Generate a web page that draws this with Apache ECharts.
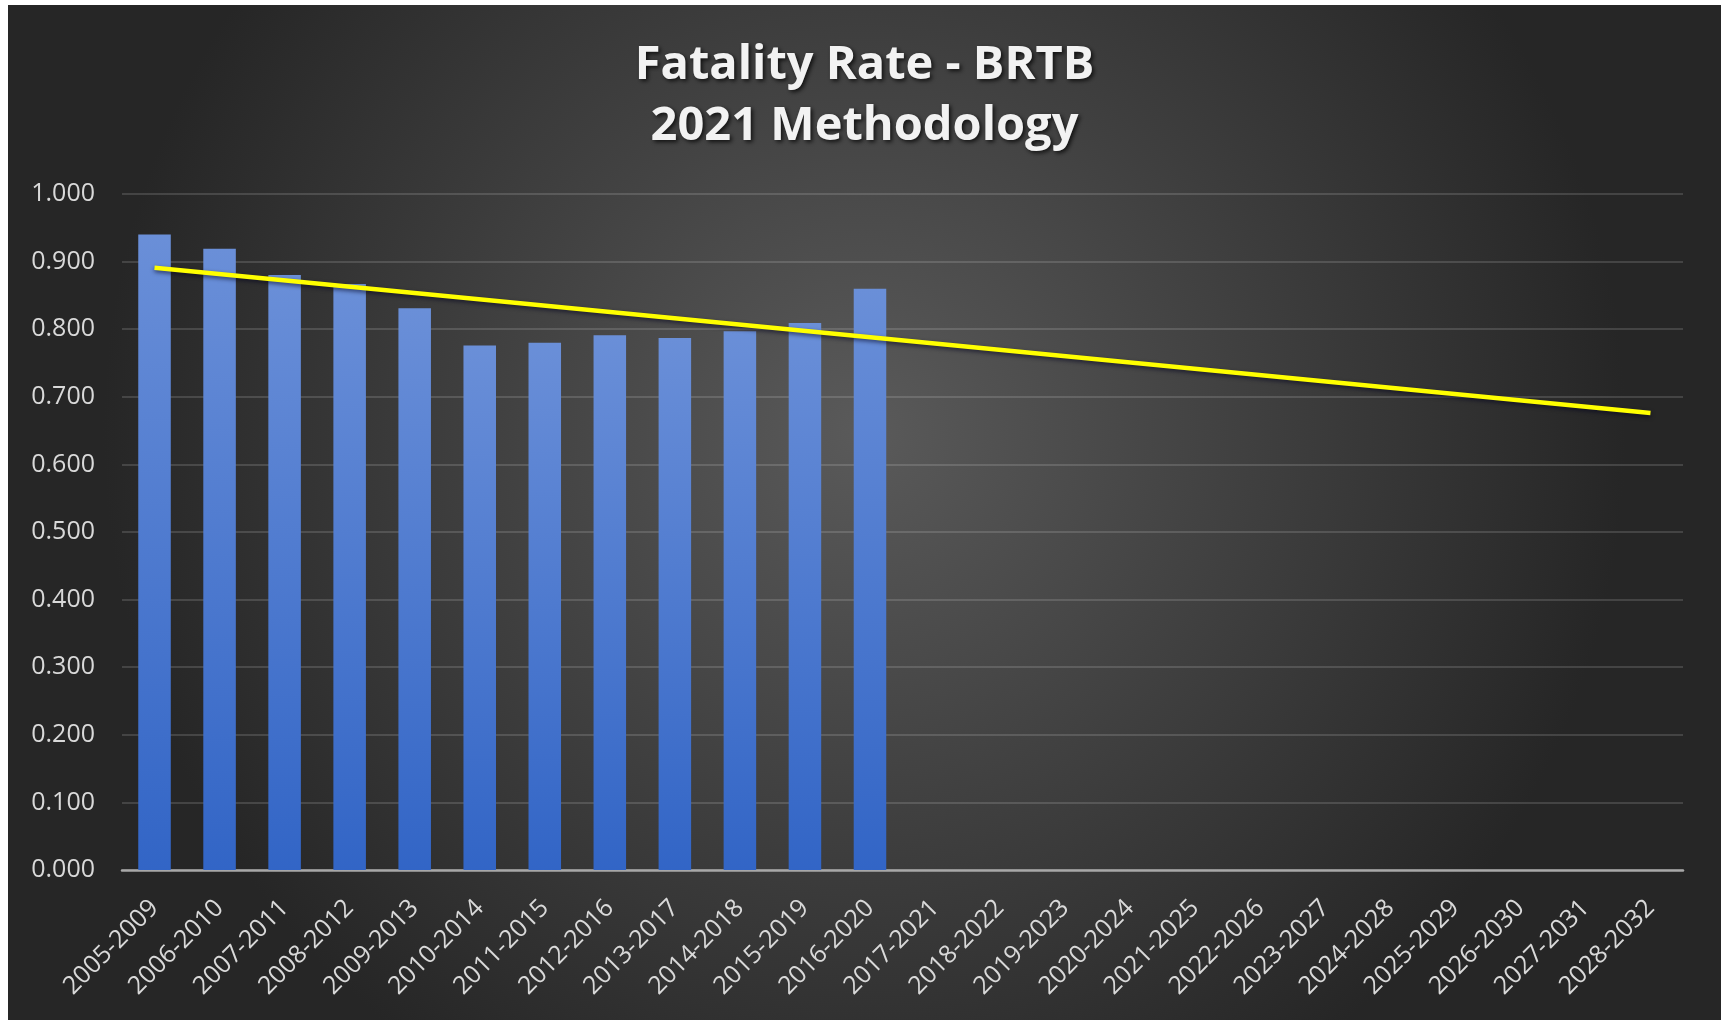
<!DOCTYPE html>
<html>
<head>
<meta charset="utf-8">
<script src="https://cdn.jsdelivr.net/npm/echarts@6/dist/echarts.min.js"></script>
<style>
  html, body { margin: 0; padding: 0; background: #ffffff; }
  #chart { position: absolute; left: 8px; top: 5px; width: 1713px; height: 1015px; }
</style>
</head>
<body>
<div id="chart"></div>
<script>
// five-year windows on the x axis
const periods = [
  '2005-2009', '2006-2010', '2007-2011', '2008-2012', '2009-2013', '2010-2014',
  '2011-2015', '2012-2016', '2013-2017', '2014-2018', '2015-2019', '2016-2020',
  '2017-2021', '2018-2022', '2019-2023', '2020-2024', '2021-2025', '2022-2026',
  '2023-2027', '2024-2028', '2025-2029', '2026-2030', '2027-2031', '2028-2032'
]

// observed fatality rate (only first 12 windows have data)
const fatalityRate = [
  0.940, 0.919, 0.880, 0.867, 0.831, 0.776,
  0.780, 0.791, 0.787, 0.797, 0.809, 0.860,
  null, null, null, null, null, null,
  null, null, null, null, null, null
]

// linear trend line: start and end values
const trendLine = [
  0.891, null, null, null, null, null,
  null, null, null, null, null, null,
  null, null, null, null, null, null,
  null, null, null, null, null, 0.676
]

const yTicks = { min: 0, max: 1, interval: 0.1 }

const chart = echarts.init(document.getElementById('chart'), null, { renderer: 'canvas' })

chart.setOption({
  backgroundColor: {
    type: 'radial', x: 0.5, y: 0.42, r: 0.75,
    colorStops: [
      { offset: 0, color: '#5a5a5a' },
      { offset: 1, color: '#262626' }
    ]
  },
  title: {
    text: 'Fatality Rate - BRTB\n2021 Methodology',
    left: 'center',
    top: 25,
    textStyle: {
      color: '#f2f2f2',
      fontFamily: 'Open Sans',
      fontWeight: 'bold',
      fontSize: 47,
      lineHeight: 61,
      textShadowColor: 'rgba(0,0,0,0.75)',
      textShadowBlur: 4,
      textShadowOffsetX: 2,
      textShadowOffsetY: 2
    }
  },
  grid: { left: 114, right: 38, top: 189, bottom: 150 },
  xAxis: {
    type: 'category',
    data: periods,
    axisLine: { lineStyle: { color: '#a8a8a8', width: 2.5 } },
    axisTick: { show: false },
    axisLabel: {
      color: '#d9d9d9',
      fontFamily: 'Open Sans',
      fontSize: 25,
      rotate: 45,
      margin: 34,
      interval: 0
    }
  },
  yAxis: {
    type: 'value',
    min: yTicks.min,
    max: yTicks.max,
    interval: yTicks.interval,
    axisLine: { show: false },
    axisTick: { show: false },
    axisLabel: {
      color: '#d9d9d9',
      fontFamily: 'Open Sans',
      fontSize: 25,
      margin: 27,
      formatter: v => v.toFixed(3)
    },
    splitLine: { lineStyle: { color: 'rgba(255,255,255,0.14)', width: 2 } }
  },
  series: [
    {
      name: 'Fatality Rate',
      type: 'bar',
      barWidth: '50%',
      itemStyle: {
        color: {
          type: 'linear', x: 0, y: 0, x2: 0, y2: 1,
          colorStops: [
            { offset: 0, color: '#6a8fd8' },
            { offset: 1, color: '#3265c6' }
          ]
        },
        shadowColor: 'rgba(0,0,0,0.35)',
        shadowBlur: 4,
        shadowOffsetX: 1
      },
      data: fatalityRate
    },
    {
      name: 'Trend',
      type: 'line',
      connectNulls: true,
      showSymbol: false,
      symbol: 'none',
      lineStyle: {
        color: '#ffff00',
        width: 4.5,
        shadowColor: 'rgba(0,0,30,0.6)',
        shadowBlur: 4,
        shadowOffsetY: 2
      },
      data: trendLine
    }
  ]
})
</script>
</body>
</html>
